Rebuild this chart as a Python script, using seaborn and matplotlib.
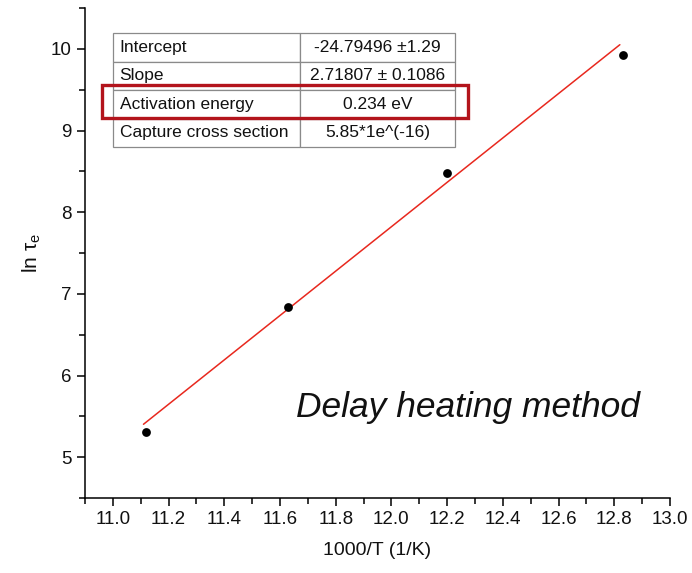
import numpy as np
import pandas as pd
import matplotlib
matplotlib.use("Agg")
import matplotlib.pyplot as plt
import matplotlib.patches as patches
from matplotlib.ticker import MultipleLocator
import seaborn as sns

# Measured points
inv_temp = [11.12, 11.63, 12.20, 12.83]
ln_tau = [5.31, 6.84, 8.48, 9.92]

# Linear fit parameters
intercept = -24.79496
slope = 2.71807
fit_x_range = [11.11, 12.82]

# Fit summary table
table_labels = ["Intercept", "Slope", "Activation energy", "Capture cross section"]
table_values = ["-24.79496 \u00b11.29", "2.71807 \u00b1 0.1086", "0.234 eV", "5.85*1e^(-16)"]

sns.set_style("ticks")
plt.rcParams["font.family"] = ["Liberation Sans", "DejaVu Sans"]
plt.rcParams["mathtext.fontset"] = "custom"
plt.rcParams["mathtext.rm"] = "Liberation Sans"
plt.rcParams["text.color"] = "#111111"
plt.rcParams["axes.labelcolor"] = "#111111"
plt.rcParams["xtick.labelcolor"] = "#111111"
plt.rcParams["ytick.labelcolor"] = "#111111"

fig = plt.figure(figsize=(6.92, 5.73), dpi=100)
ax = fig.add_axes([0.1228, 0.1309, 0.8454, 0.8551])

pts = pd.DataFrame({"x": inv_temp, "y": ln_tau})
fit_x = np.linspace(fit_x_range[0], fit_x_range[1], 50)
fit = pd.DataFrame({"x": fit_x, "y": intercept + slope * fit_x})

sns.lineplot(data=fit, x="x", y="y", ax=ax, color="#e8281e", linewidth=1.1)
sns.scatterplot(data=pts, x="x", y="y", ax=ax, color="black", s=40,
                edgecolor="black", linewidth=0, zorder=5)

ax.set_xlim(10.9, 13.0)
ax.set_ylim(4.5, 10.5)
ax.xaxis.set_minor_locator(MultipleLocator(0.1))
ax.yaxis.set_major_locator(MultipleLocator(1))
ax.yaxis.set_minor_locator(MultipleLocator(0.5))
xt = np.round(np.arange(11.0, 13.01, 0.2), 1)
ax.set_xticks(xt)
ax.set_xticklabels([f"{v:.1f}" for v in xt])
ax.tick_params(axis="both", which="major", labelsize=13.5, length=6, width=1.1, color="black")
ax.tick_params(axis="both", which="minor", length=4, width=1.1, color="black")
for side in ("top", "right"):
    ax.spines[side].set_visible(False)
for side in ("left", "bottom"):
    ax.spines[side].set_linewidth(1.1)
    ax.spines[side].set_color("black")

ax.set_xlabel("1000/T (1/K)", fontsize=14, labelpad=10)
ax.set_ylabel("ln \u03c4$_\\mathrm{e}$", fontsize=15, labelpad=6)

tbl = ax.table(cellText=[[l, v] for l, v in zip(table_labels, table_values)],
               colWidths=[0.547, 0.453], cellLoc="center",
               bbox=[0.0479, 0.716, 0.585, 0.233])
tbl.auto_set_font_size(False)
for (r, c), cell in tbl.get_celld().items():
    cell.set_edgecolor("#8a8a8a")
    cell.set_linewidth(0.9)
    cell.get_text().set_fontsize(12.5)
    cell.get_text().set_color("#111111")
    if c == 0:
        cell.get_text().set_ha("left")
        cell.PAD = 0.035

ax.add_patch(patches.Rectangle((0.029, 0.7755), 0.626, 0.067, transform=ax.transAxes,
                               fill=False, edgecolor="#b3141c", linewidth=2.4,
                               clip_on=False, zorder=10))

ax.text(0.655, 0.185, "Delay heating method", transform=ax.transAxes, fontsize=25.5,
        style="italic", ha="center", va="center")

fig.savefig("out.png", dpi=100)
